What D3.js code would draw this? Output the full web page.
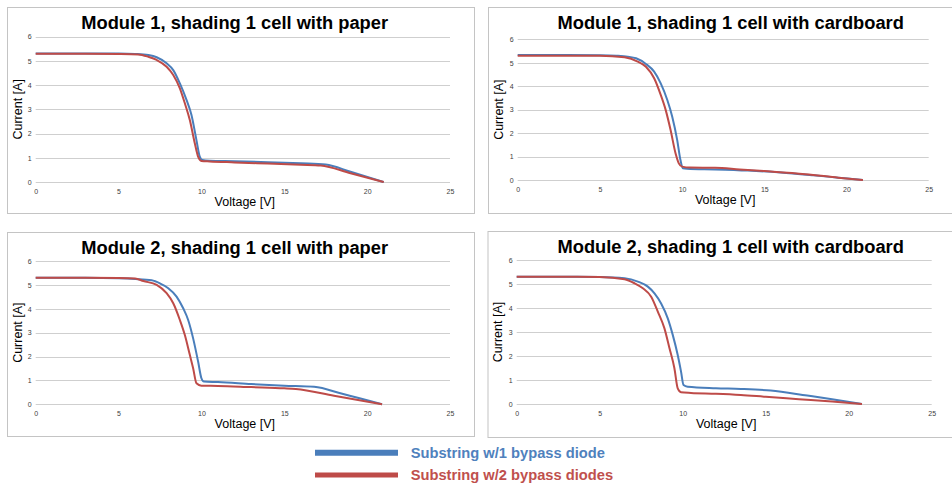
<!DOCTYPE html>
<html>
<head>
<meta charset="utf-8">
<script src="https://cdn.jsdelivr.net/npm/d3@7"></script>
<style>
  html, body { margin: 0; padding: 0; background: #fff; }
  svg { display: block; font-family: "Liberation Sans", Arial, sans-serif; }
</style>
</head>
<body>
<svg id="chart" width="952" height="487"></svg>
<script>
// Axis ticks
const voltageTicks = [0, 5, 10, 15, 20, 25];
const currentTicks = [0, 1, 2, 3, 4, 5, 6];

// Panel titles
const panelTitles = [
  "Module 1, shading 1 cell with paper",
  "Module 1, shading 1 cell with cardboard",
  "Module 2, shading 1 cell with paper",
  "Module 2, shading 1 cell with cardboard"
];

// Legend entries
const seriesNames = ["Substring w/1 bypass diode", "Substring w/2 bypass diodes"];
const seriesColors = ["#4a7ebb", "#be4b48"];
const legendTextColors = ["#4f81bd", "#c0504d"];

// I-V curves: [voltage V, current A]
const m1PaperOneDiode = [
  [0, 5.31], [3, 5.31], [5, 5.31], [6, 5.29], [6.8, 5.24], [7.3, 5.15], [7.9, 4.9],
  [8.3, 4.62], [8.7, 4.07], [9.1, 3.39], [9.4, 2.77], [9.7, 1.73], [9.9, 1.05],
  [10.05, 0.91], [10.5, 0.88], [12, 0.86], [14, 0.82], [16, 0.77], [17.5, 0.72],
  [19, 0.42], [21, 0]
];
const m1PaperTwoDiodes = [
  [0, 5.3], [3, 5.3], [5, 5.29], [6.2, 5.27], [6.8, 5.17], [7.3, 5.04], [7.9, 4.76],
  [8.3, 4.42], [8.7, 3.87], [9.0, 3.25], [9.3, 2.56], [9.6, 1.6], [9.8, 1.05],
  [10.0, 0.87], [10.5, 0.85], [12, 0.81], [14, 0.76], [16, 0.71], [17.2, 0.68],
  [19, 0.36], [21, 0]
];
const m1CardboardOneDiode = [
  [0, 5.33], [3, 5.33], [5, 5.32], [6, 5.3], [6.7, 5.26], [7.2, 5.19], [7.8, 4.95],
  [8.3, 4.62], [8.7, 4.12], [9.1, 3.41], [9.4, 2.7], [9.7, 1.71], [9.9, 0.85],
  [10.05, 0.5], [10.3, 0.48], [12, 0.45], [14, 0.4], [16, 0.32], [18, 0.2],
  [19.5, 0.1], [21, 0]
];
const m1CardboardTwoDiodes = [
  [0, 5.3], [3, 5.3], [5, 5.3], [6.5, 5.23], [7.3, 5.05], [7.8, 4.83], [8.3, 4.34],
  [8.7, 3.63], [9.0, 2.99], [9.3, 2.13], [9.6, 1.14], [9.8, 0.71], [10.0, 0.57],
  [10.5, 0.53], [12, 0.52], [13.5, 0.45], [15, 0.38], [17.5, 0.25], [19.5, 0.1],
  [21, 0]
];
const m2PaperOneDiode = [
  [0, 5.3], [3, 5.3], [5, 5.28], [6, 5.25], [7, 5.19], [7.5, 5.06], [8, 4.86],
  [8.5, 4.51], [8.9, 4.02], [9.2, 3.53], [9.5, 2.76], [9.8, 1.79], [10.0, 1.09],
  [10.15, 0.95], [11, 0.93], [13, 0.85], [15, 0.78], [16.8, 0.73], [18.5, 0.44],
  [20.9, 0]
];
const m2PaperTwoDiodes = [
  [0, 5.3], [3, 5.3], [5, 5.29], [6, 5.27], [6.5, 5.16], [7.3, 5.0], [7.9, 4.65],
  [8.3, 4.23], [8.7, 3.53], [9.0, 2.9], [9.3, 2.07], [9.5, 1.51], [9.7, 0.88],
  [10.0, 0.78], [11, 0.77], [13, 0.72], [15, 0.67], [15.7, 0.64], [18, 0.36],
  [20.9, 0]
];
const m2CardboardOneDiode = [
  [0, 5.3], [3, 5.3], [5, 5.29], [6.5, 5.24], [7.3, 5.1], [7.9, 4.89], [8.3, 4.61],
  [8.7, 4.19], [9.1, 3.57], [9.4, 2.88], [9.7, 2.04], [9.9, 1.35], [10.05, 0.79],
  [10.3, 0.72], [12, 0.66], [13.5, 0.63], [15.3, 0.56], [17.5, 0.35], [19, 0.2],
  [20.8, 0]
];
const m2CardboardTwoDiodes = [
  [0, 5.3], [3, 5.3], [5, 5.29], [6.5, 5.2], [7.1, 5.03], [7.6, 4.82], [8.1, 4.47],
  [8.5, 3.85], [8.9, 3.15], [9.2, 2.33], [9.5, 1.49], [9.7, 0.65], [9.9, 0.49],
  [10.5, 0.46], [12, 0.43], [13.5, 0.38], [15, 0.3], [17, 0.2], [19, 0.1],
  [20.8, 0]
];

const panelSeries = [
  [m1PaperOneDiode, m1PaperTwoDiodes],
  [m1CardboardOneDiode, m1CardboardTwoDiodes],
  [m2PaperOneDiode, m2PaperTwoDiodes],
  [m2CardboardOneDiode, m2CardboardTwoDiodes]
];

// Frame and plot rectangles of the four panels
const layout = [
  { box: [7, 7, 467, 206], plot: [35.7, 36.7, 450, 182], titleX: 234.7, titleY: 28.5 },
  { box: [488, 7, 465, 206], plot: [517.7, 39.3, 928.7, 180], titleX: 730.7, titleY: 28.5 },
  { box: [7, 232, 467, 204], plot: [35.7, 261, 450, 404.3], titleX: 234.7, titleY: 254 },
  { box: [487.5, 231, 465, 206], plot: [516.7, 260, 931.7, 404], titleX: 730.7, titleY: 253.3 }
];

const svg = d3.select("#chart");

layout.forEach((L, k) => {
  const g = svg.append("g");
  const [bx, by, bw, bh] = L.box;
  g.append("rect")
    .attr("x", bx + 0.5).attr("y", by + 0.5)
    .attr("width", bw).attr("height", bh)
    .attr("fill", "#fff").attr("stroke", "#c4c4c4").attr("stroke-width", 1);

  const [x0, y0, x1, y1] = L.plot;
  const x = d3.scaleLinear().domain([0, 25]).range([x0, x1]);
  const y = d3.scaleLinear().domain([0, 6]).range([y1, y0]);

  // horizontal gridlines
  g.append("g").selectAll("line").data(currentTicks).join("line")
    .attr("x1", x0).attr("x2", x1)
    .attr("y1", d => Math.round(y(d)) + 0.5).attr("y2", d => Math.round(y(d)) + 0.5)
    .attr("stroke", "#cfcfcf").attr("stroke-width", 1);

  // y tick labels
  const yAxis = d3.axisLeft(y).tickValues(currentTicks).tickFormat(d3.format("d"))
    .tickSize(0).tickPadding(4);
  const ya = g.append("g").attr("transform", `translate(${x0},0)`).call(yAxis);
  ya.select(".domain").remove();
  ya.selectAll("text").attr("font-size", 7).attr("fill", "#404040")
    .attr("font-family", "Liberation Sans, Arial, sans-serif");

  // x tick labels
  const xAxis = d3.axisBottom(x).tickValues(voltageTicks).tickFormat(d3.format("d"))
    .tickSize(0).tickPadding(7);
  const xa = g.append("g").attr("transform", `translate(0,${y1})`).call(xAxis);
  xa.select(".domain").remove();
  xa.selectAll("text").attr("font-size", 7).attr("fill", "#404040")
    .attr("font-family", "Liberation Sans, Arial, sans-serif");

  // axis titles
  g.append("text")
    .attr("x", (x0 + x1) / 2 + 2).attr("y", y1 + 24)
    .attr("text-anchor", "middle").attr("font-size", 12.5).attr("fill", "#000")
    .text("Voltage [V]");
  g.append("text")
    .attr("transform", `translate(${bx + 14.8},${(y0 + y1) / 2}) rotate(-90)`)
    .attr("text-anchor", "middle").attr("font-size", 12.5).attr("fill", "#000")
    .text("Current [A]");

  // panel title
  g.append("text")
    .attr("x", L.titleX).attr("y", L.titleY)
    .attr("text-anchor", "middle").attr("font-size", 18.3).attr("font-weight", "bold")
    .attr("fill", "#000")
    .text(panelTitles[k]);

  // curves
  const line = d3.line()
    .x(d => x(d[0])).y(d => y(d[1]))
    .curve(d3.curveMonotoneX);
  panelSeries[k].forEach((s, j) => {
    g.append("path")
      .datum(s)
      .attr("d", line)
      .attr("fill", "none")
      .attr("stroke", seriesColors[j])
      .attr("stroke-width", 2)
      .attr("stroke-linejoin", "round");
  });
});

// legend
const legend = svg.append("g");
const legendRows = [
  { lineY: 452.7, width: 6, textY: 457.8 },
  { lineY: 475, width: 5, textY: 479.6 }
];
seriesNames.forEach((name, j) => {
  const r = legendRows[j];
  legend.append("line")
    .attr("x1", 315).attr("x2", 398)
    .attr("y1", r.lineY).attr("y2", r.lineY)
    .attr("stroke", seriesColors[j]).attr("stroke-width", r.width);
  legend.append("text")
    .attr("x", 410.7).attr("y", r.textY)
    .attr("font-size", 14.7).attr("font-weight", "bold")
    .attr("fill", legendTextColors[j])
    .text(name);
});
</script>
</body>
</html>
